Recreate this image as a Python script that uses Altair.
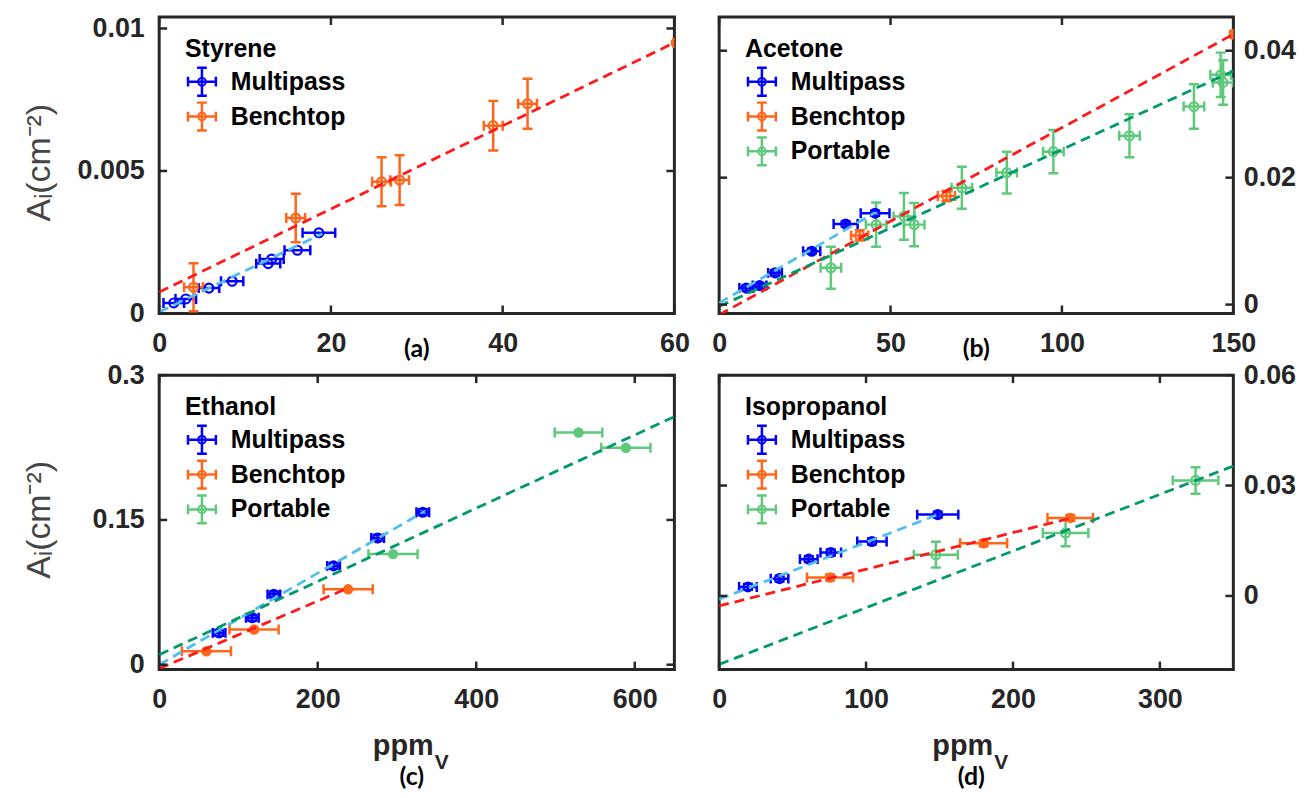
import altair as alt
import pandas as pd

FONT = "Liberation Sans"
AXC = "#262626"

# ---------------- data ----------------
# (a) Styrene
a_mp_x = [1.7, 3.1, 5.8, 8.5, 12.7, 13.1, 16.1, 18.6]
a_mp_y = [0.00037, 0.00051, 0.00089, 0.00113, 0.00175, 0.00191, 0.00222, 0.00283]
a_mp_xe = [1.2, 1.2, 1.2, 1.3, 1.4, 1.4, 1.5, 1.9]
a_mp_ye = [0, 0, 0, 0, 0, 0, 0, 0]
a_bt_x = [4.0, 15.9, 25.9, 28.0, 38.9, 42.9, 60.2]
a_bt_y = [0.00092, 0.00335, 0.00462, 0.00468, 0.00659, 0.00736, 0.0095]
a_bt_xe = [1.1, 1.1, 1.1, 1.1, 1.1, 1.1, 0.3]
a_bt_ye = [0.00084, 0.00085, 0.00086, 0.00087, 0.00087, 0.00088, 0]
a_fit_mp = ([0, 19.0], [0.00005, 0.0028])
a_fit_bt = ([0, 60], [0.00075, 0.0095])

# (b) Acetone
b_mp_x = [7.9, 11.8, 16.3, 27.0, 36.9, 45.5]
b_mp_y = [0.0026, 0.0030, 0.0050, 0.0084, 0.0127, 0.0144]
b_mp_xe = [2.0, 2.0, 2.0, 2.5, 3.5, 4.2]
b_mp_ye = [0.0004, 0.0004, 0.0004, 0.0004, 0.0004, 0.0004]
b_bt_x = [41.0, 66.3, 150.2]
b_bt_y = [0.0109, 0.0171, 0.0426]
b_bt_xe = [2.5, 2.5, 0.5]
b_bt_ye = [0.0008, 0.0008, 0.0005]
b_pt_x = [32.6, 45.8, 53.9, 56.9, 70.8, 83.9, 97.5, 119.7, 138.5, 146.3, 147.0]
b_pt_y = [0.0058, 0.0126, 0.0139, 0.0126, 0.0184, 0.0208, 0.0241, 0.0266, 0.0312, 0.0362, 0.0350]
b_pt_xe = [3.0, 3.0, 3.0, 3.0, 3.0, 3.0, 3.0, 3.0, 3.0, 3.0, 3.0]
b_pt_ye = [0.0033, 0.0035, 0.0037, 0.0034, 0.0033, 0.0033, 0.0034, 0.0034, 0.0035, 0.0035, 0.0035]
b_fit_mp = ([0, 45.5], [0.00026, 0.0145])
b_fit_bt = ([0, 150], [-0.0016, 0.0426])
b_fit_pt = ([0, 150], [-0.0003, 0.0368])

# (c) Ethanol
c_mp_x = [75.6, 117.5, 144.7, 220.0, 275.6, 332.6]
c_mp_y = [0.033, 0.0486, 0.0729, 0.1024, 0.1313, 0.158]
c_mp_xe = [8, 8, 8, 8, 8, 8]
c_mp_ye = [0.003, 0.003, 0.003, 0.003, 0.003, 0.003]
c_bt_x = [59.6, 119.7, 238.4]
c_bt_y = [0.0139, 0.0365, 0.0781]
c_bt_xe = [31, 31, 31]
c_bt_ye = [0, 0, 0]
c_pt_x = [295.0, 529.0, 588.8]
c_pt_y = [0.1146, 0.2406, 0.2247]
c_pt_xe = [31, 30, 31]
c_pt_ye = [0, 0, 0]
c_fit_mp = ([0, 335], [0.0, 0.159])
c_fit_bt = ([0, 240], [-0.004, 0.080])
c_fit_pt = ([0, 650], [0.0104, 0.257])

# (d) Isopropanol
d_mp_x = [19.6, 41.1, 61.0, 76.0, 104.0, 148.8]
d_mp_y = [0.00245, 0.0047, 0.0100, 0.0118, 0.0148, 0.0221]
d_mp_xe = [6, 6, 6, 7, 10, 14]
d_mp_ye = [0.0008, 0.0008, 0.0008, 0.0008, 0.0008, 0.0008]
d_bt_x = [75.5, 180.0, 239.0]
d_bt_y = [0.0050, 0.0143, 0.0212]
d_bt_xe = [15.7, 16.0, 15.5]
d_bt_ye = [0.0008, 0.0008, 0.0008]
d_pt_x = [147.5, 235.8, 324.3]
d_pt_y = [0.0112, 0.0171, 0.0314]
d_pt_xe = [15.0, 15.5, 15.5]
d_pt_ye = [0.0035, 0.0036, 0.0036]
d_fit_mp = ([0, 148.8], [-0.0009, 0.0221])
d_fit_bt = ([0, 239], [-0.0027, 0.0211])
d_fit_pt = ([0, 350], [-0.0186, 0.0353])

SERIES = ["Multipass", "Benchtop", "Portable", "Multipass fit", "Benchtop fit", "Portable fit"]
COLORS = ["#0000FF", "#FF661A", "#5EC97A", "#4DBEEE", "#FF1A1A", "#00996B"]
CMAP = dict(zip(SERIES, COLORS))
cscale = alt.Scale(domain=SERIES, range=COLORS)

CROSS = ("M-1,0L1,0M0,-1L0,1M-1,-0.35L-1,0.35M1,-0.35L1,0.35"
         "M-0.35,-1L0.35,-1M-0.35,1L0.35,1")


def pts(name, xs, ys, xe, ye, filled):
    return pd.DataFrame({"series": name, "x": xs, "y": ys, "xe": xe, "ye": ye,
                         "filled": [filled] * len(xs)})


def fit(name, f):
    return pd.DataFrame({"series": name + " fit", "x": f[0], "y": f[1]})


def panel(points, fits, xdom, ydom, xvals, yvals, w, h, yorient, names, title, tag, bottom):
    xs = alt.Scale(domain=xdom, nice=False, zero=False)
    ys = alt.Scale(domain=ydom, nice=False, zero=False)
    common = dict(ticks=False, domain=False, grid=False, labelFlush=False, labelOverlap=False,
                  format=".6~g", labelFontSize=27, labelFont=FONT, labelFontWeight="bold",
                  labelColor=AXC)
    xax = alt.Axis(values=xvals, title=None, labelPadding=17, **common)
    if yorient == "left":
        yax = alt.Axis(orient="left", values=yvals, title="Aᵢ(cm⁻²)", titleX=-120, titleY=h / 2 - 3,
                       titleAngle=270, titleAlign="center", titleBaseline="middle",
                       titleFont=FONT, titleFontSize=34, titleFontWeight="normal",
                       titleColor="#454545", labelPadding=15, **common)
    else:
        yax = alt.Axis(orient="right", values=yvals, title=None, labelPadding=10, **common)

    def X(f):
        return alt.X(f, type="quantitative", scale=xs, axis=xax)

    def Y(f):
        return alt.Y(f, type="quantitative", scale=ys, axis=yax)

    col = alt.Color("series:N", scale=cscale, legend=None)
    base = alt.Chart(points).transform_calculate(
        xlo="datum.x - datum.xe", xhi="datum.x + datum.xe",
        ylo="datum.y - datum.ye", yhi="datum.y + datum.ye")
    hb = base.transform_filter("datum.xe > 0")
    vb = base.transform_filter("datum.ye > 0")
    layers = [
        hb.mark_rule(strokeWidth=2.5, clip=True, opacity=1).encode(
            x=X("xlo"), x2=alt.X2("xhi"), y=Y("y"), color=col),
        hb.mark_tick(orient="vertical", size=10, thickness=2.5, clip=True, opacity=1).encode(
            x=X("xlo"), y=Y("y"), color=col),
        hb.mark_tick(orient="vertical", size=10, thickness=2.5, clip=True, opacity=1).encode(
            x=X("xhi"), y=Y("y"), color=col),
        vb.mark_rule(strokeWidth=2.5, clip=True, opacity=1).encode(
            x=X("x"), y=Y("ylo"), y2=alt.Y2("yhi"), color=col),
        vb.mark_tick(orient="horizontal", size=10, thickness=2.5, clip=True, opacity=1).encode(
            x=X("x"), y=Y("ylo"), color=col),
        vb.mark_tick(orient="horizontal", size=10, thickness=2.5, clip=True, opacity=1).encode(
            x=X("x"), y=Y("yhi"), color=col),
        base.transform_filter("datum.filled == 0").mark_point(
            size=80, strokeWidth=2.2, filled=False, opacity=1, clip=True).encode(
            x=X("x"), y=Y("y"), color=col),
        base.transform_filter("datum.filled == 1").mark_circle(
            size=110, opacity=1, clip=True).encode(x=X("x"), y=Y("y"), color=col),
        alt.Chart(fits).mark_line(strokeDash=[10, 6], strokeWidth=2.8, clip=True).encode(
            x=X("x"), y=Y("y"), color=col, detail="series:N"),
    ]
    # inward ticks on all four sides
    xt = pd.DataFrame({"v": xvals})
    yt = pd.DataFrame({"v": yvals})
    tl = 8
    layers += [
        alt.Chart(xt).mark_rule(color=AXC, strokeWidth=2.5).encode(
            x=X("v"), y=alt.value(0), y2=alt.value(tl)),
        alt.Chart(xt).mark_rule(color=AXC, strokeWidth=2.5).encode(
            x=X("v"), y=alt.value(h - tl), y2=alt.value(h)),
        alt.Chart(yt).mark_rule(color=AXC, strokeWidth=2.5).encode(
            y=Y("v"), x=alt.value(0), x2=alt.value(tl)),
        alt.Chart(yt).mark_rule(color=AXC, strokeWidth=2.5).encode(
            y=Y("v"), x=alt.value(w - tl), x2=alt.value(w)),
    ]
    # legend
    layers.append(alt.Chart(pd.DataFrame({"t": [title]})).mark_text(
        align="left", baseline="middle", font=FONT, fontSize=25, fontWeight="bold",
        color="black").encode(x=alt.value(26), y=alt.value(32), text="t:N"))
    for i, nm in enumerate(names):
        ly = 65 + 35 * i
        d = pd.DataFrame({"s": [nm]})
        layers += [
            alt.Chart(d).mark_point(shape=CROSS, size=784, filled=False, strokeWidth=2.5,
                                    opacity=1, color=CMAP[nm]).encode(
                x=alt.value(43), y=alt.value(ly)),
            alt.Chart(d).mark_point(shape="circle", size=60, filled=False, strokeWidth=2,
                                    opacity=1, color=CMAP[nm]).encode(
                x=alt.value(43), y=alt.value(ly)),
            alt.Chart(d).mark_text(align="left", baseline="middle", font=FONT, fontSize=25,
                                   fontWeight="bold", color="black").encode(
                x=alt.value(72), y=alt.value(ly), text="s:N"),
        ]
    # panel tag and x title
    if bottom:
        layers += [
            alt.Chart(pd.DataFrame({"t": ["ppm"]})).mark_text(
                align="right", baseline="alphabetic", font=FONT, fontSize=29,
                fontWeight="bold", color=AXC).encode(
                x=alt.value(w / 2 + 17), y=alt.value(h + 86), text="t:N"),
            alt.Chart(pd.DataFrame({"t": ["V"]})).mark_text(
                align="left", baseline="alphabetic", font=FONT, fontSize=21,
                fontWeight="bold", color=AXC).encode(
                x=alt.value(w / 2 + 18), y=alt.value(h + 100), text="t:N"),
            alt.Chart(pd.DataFrame({"t": [tag]})).mark_text(
                align="center", baseline="alphabetic", font="Lato", fontSize=25,
                fontWeight="bold", color="black").encode(
                x=alt.value(w / 2 - 5), y=alt.value(h + 116), text="t:N"),
        ]
    else:
        layers.append(alt.Chart(pd.DataFrame({"t": [tag]})).mark_text(
            align="center", baseline="middle", font="Lato", fontSize=25,
            fontWeight="bold", color="black").encode(
            x=alt.value(w / 2), y=alt.value(h + 36), text="t:N"))
    return alt.layer(*layers).properties(width=w, height=h)


pa = panel(pd.concat([pts("Multipass", a_mp_x, a_mp_y, a_mp_xe, a_mp_ye, 0),
                      pts("Benchtop", a_bt_x, a_bt_y, a_bt_xe, a_bt_ye, 0)]),
           pd.concat([fit("Multipass", a_fit_mp), fit("Benchtop", a_fit_bt)]),
           [0, 60], [0, 0.0104], [0, 20, 40, 60], [0, 0.005, 0.01], 518, 298, "left",
           ["Multipass", "Benchtop"], "Styrene", "(a)", False)

pb = panel(pd.concat([pts("Multipass", b_mp_x, b_mp_y, b_mp_xe, b_mp_ye, 0),
                      pts("Benchtop", b_bt_x, b_bt_y, b_bt_xe, b_bt_ye, 0),
                      pts("Portable", b_pt_x, b_pt_y, b_pt_xe, b_pt_ye, 0)]),
           pd.concat([fit("Multipass", b_fit_mp), fit("Benchtop", b_fit_bt),
                      fit("Portable", b_fit_pt)]),
           [0, 150], [-0.0014, 0.0453], [0, 50, 100, 150], [0, 0.02, 0.04], 517, 298, "right",
           ["Multipass", "Benchtop", "Portable"], "Acetone", "(b)", False)

pc = panel(pd.concat([pts("Multipass", c_mp_x, c_mp_y, c_mp_xe, c_mp_ye, 0),
                      pts("Benchtop", c_bt_x, c_bt_y, c_bt_xe, c_bt_ye, 1),
                      pts("Portable", c_pt_x, c_pt_y, c_pt_xe, c_pt_ye, 1)]),
           pd.concat([fit("Multipass", c_fit_mp), fit("Benchtop", c_fit_bt),
                      fit("Portable", c_fit_pt)]),
           [0, 650], [-0.005, 0.3], [0, 200, 400, 600], [0, 0.15, 0.3], 518, 296, "left",
           ["Multipass", "Benchtop", "Portable"], "Ethanol", "(c)", True)

pd_ = panel(pd.concat([pts("Multipass", d_mp_x, d_mp_y, d_mp_xe, d_mp_ye, 0),
                       pts("Benchtop", d_bt_x, d_bt_y, d_bt_xe, d_bt_ye, 1),
                       pts("Portable", d_pt_x, d_pt_y, d_pt_xe, d_pt_ye, 0)]),
            pd.concat([fit("Multipass", d_fit_mp), fit("Benchtop", d_fit_bt),
                       fit("Portable", d_fit_pt)]),
            [0, 350], [-0.02, 0.06], [0, 100, 200, 300], [0, 0.03, 0.06], 517, 296, "right",
            ["Multipass", "Benchtop", "Portable"], "Isopropanol", "(d)", True)

chart = alt.concat(pa, pb, pc, pd_, columns=2, spacing={"row": 62, "column": 45},
                   bounds="flush").properties(
    padding={"left": 13, "top": 2, "right": 0, "bottom": 0},
    background="white",
).configure_view(stroke=AXC, strokeWidth=3)

chart.save("out.html", embed_options={"renderer": "svg", "actions": False})
